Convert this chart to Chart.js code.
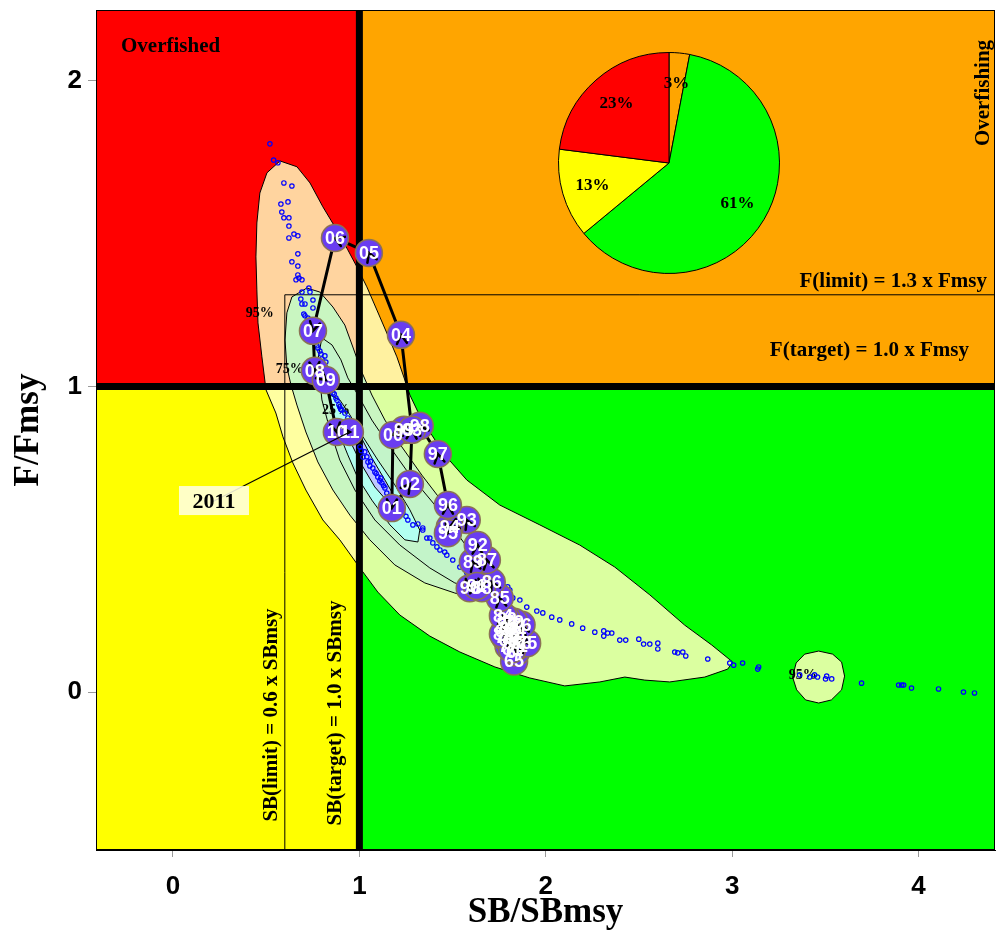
<!DOCTYPE html>
<html>
<head>
<meta charset="utf-8">
<script src="https://cdn.jsdelivr.net/npm/chart.js@4.4.1/dist/chart.umd.min.js"></script>
<style>
html, body { margin: 0; padding: 0; background: #fff; }
#wrap { position: relative; width: 996px; height: 934px; }
#pie { position: absolute; left: 558px; top: 52px; }
</style>
</head>
<body>
<div id="wrap">
	<canvas id="kobe" width="996" height="934"></canvas>
	<canvas id="pie" width="222" height="222"></canvas>
</div>
<script>
const SERIF = "'Liberation Serif', 'Times New Roman', serif";
const SANS = "'Liberation Sans', Arial, sans-serif";

// axes
const xTicks = [0, 1, 2, 3, 4];
const yTicks = [0, 1, 2];
const sbLimit = 0.6, sbTarget = 1.0, fLimit = 1.3, fTarget = 1.0;

// stock trajectory (SB/SBmsy, F/Fmsy)
const years = [1965,1966,1967,1968,1969,1970,1971,1972,1973,1974,1975,1976,1977,1978,1979,1980,1981,1982,1983,1984,
	1985,1986,1987,1988,1989,1990,1991,1992,1993,1994,1995,1996,1997,1998,1999,2000,2001,2002,2003,2004,2005,2006,2007,2008,2009,2010,2011];
const trajSB = [1.83,1.87,1.84,1.80,1.78,1.81,1.85,1.82,1.79,1.84,1.90,1.87,1.80,1.78,1.83,1.80,1.82,1.79,1.77,1.77,
	1.753,1.710,1.684,1.657,1.609,1.592,1.630,1.635,1.576,1.485,1.475,1.475,1.421,1.324,1.239,1.180,1.174,1.271,1.282,1.223,1.051,0.869,0.751,0.761,0.820,0.879,0.949];
const trajF = [0.10,0.16,0.13,0.17,0.20,0.18,0.15,0.19,0.22,0.20,0.16,0.22,0.15,0.18,0.23,0.21,0.14,0.24,0.19,0.25,
	0.308,0.360,0.432,0.340,0.426,0.340,0.347,0.481,0.563,0.540,0.520,0.612,0.779,0.871,0.858,0.841,0.602,0.681,0.858,1.169,1.437,1.486,1.182,1.051,1.021,0.851,0.851];

// last-year uncertainty (bootstrap points)
const bootPts = [[0.52,1.794],[0.54,1.741],[0.563,1.732],[0.595,1.666],[0.638,1.656],[0.579,1.597],[0.617,1.604],[0.584,1.571],
	[0.595,1.552],[0.622,1.552],[0.622,1.525],[0.649,1.499],[0.67,1.493],[0.622,1.486],[0.67,1.434],[0.638,1.408],[0.67,1.394],
	[0.67,1.365],[0.676,1.355],[0.66,1.349],[0.692,1.349],[0.729,1.322],[0.692,1.309],[0.735,1.309],[0.686,1.286],[0.692,1.27],
	[0.708,1.27],[0.751,1.283],[0.751,1.257],[0.702,1.237],[0.708,1.231],[0.724,1.224],[0.735,1.208],[0.772,1.133],[0.777,1.126],
	[0.788,1.116],[0.794,1.106],[0.815,1.1],[0.799,1.09],[0.82,1.08],[0.831,1.054],[0.842,1.028],[0.847,1.005],[0.858,0.979],
	[0.865,0.975],[0.874,0.962],[0.88,0.955],[0.89,0.94],[0.895,0.933],[0.9,0.925],[0.906,0.923],[0.922,0.913],[0.938,0.897],
	[0.96,0.874],[0.976,0.858],[0.987,0.838],[1.003,0.802],[1.01,0.79],[1.019,0.769],[1.029,0.786],[1.04,0.77],[1.046,0.753],
	[1.056,0.74],[1.06,0.755],[1.072,0.733],[1.083,0.72],[1.09,0.715],[1.099,0.704],[1.11,0.691],[1.115,0.7],[1.121,0.684],
	[1.13,0.675],[1.137,0.668],[1.147,0.651],[1.16,0.64],[1.175,0.625],[1.19,0.612],[1.2,0.6],[1.215,0.59],[1.233,0.586],
	[1.25,0.575],[1.26,0.563],[1.287,0.547],[1.314,0.55],[1.34,0.537],[1.34,0.53],[1.362,0.504],[1.378,0.504],[1.394,0.488],
	[1.416,0.475],[1.432,0.465],[1.458,0.458],[1.469,0.448],[1.501,0.432],[1.539,0.409],[1.576,0.39],[1.796,0.344],[1.807,0.334],
	[1.823,0.308],[1.861,0.301],[1.898,0.278],[1.952,0.265],[1.984,0.259],[2.032,0.245],[2.075,0.236],[2.139,0.223],[2.198,0.209],
	[2.263,0.196],[2.311,0.2],[2.311,0.183],[2.332,0.193],[2.354,0.193],[2.397,0.17],[2.429,0.17],[2.499,0.173],[2.525,0.157],
	[2.558,0.157],[2.601,0.16],[2.601,0.141],[2.692,0.131],[2.708,0.128],[2.735,0.131],[2.751,0.118],[2.869,0.108],[2.987,0.095],
	[3.008,0.088],[3.056,0.095],[3.142,0.082],[3.137,0.075],[3.362,0.056],[3.416,0.049],[3.442,0.056],[3.458,0.049],[3.507,0.052],
	[3.534,0.043],[3.501,0.043],[3.694,0.029],[3.893,0.023],[3.909,0.023],[3.92,0.023],[3.962,0.013],[4.107,0.01],[4.241,0.0],[4.3,-0.003]];

// density contours
const contour95 = [[0.574,1.738],[0.665,1.719],[0.735,1.666],[0.804,1.588],[0.879,1.512],[0.938,1.447],[0.987,1.391],[1.04,1.326],
	[1.094,1.25],[1.147,1.175],[1.201,1.097],[1.244,1.021],[1.271,0.972],[1.314,0.917],[1.378,0.851],[1.458,0.776],[1.576,0.694],
	[1.753,0.612],[1.968,0.547],[2.182,0.481],[2.37,0.409],[2.558,0.318],[2.745,0.219],[2.89,0.154],[3.003,0.098],[2.976,0.075],
	[2.853,0.049],[2.665,0.033],[2.531,0.039],[2.424,0.049],[2.29,0.033],[2.102,0.02],[1.914,0.046],[1.727,0.082],[1.539,0.131],
	[1.378,0.183],[1.217,0.252],[1.099,0.327],[1.003,0.406],[0.895,0.498],[0.804,0.563],[0.713,0.661],[0.643,0.75],[0.59,0.835],
	[0.552,0.913],[0.499,0.989],[0.477,1.097],[0.456,1.208],[0.45,1.316],[0.445,1.424],[0.45,1.535],[0.466,1.633],[0.504,1.699]];
const island95 = [[3.464,0.134],[3.539,0.124],[3.587,0.098],[3.603,0.052],[3.587,0.007],[3.532,-0.026],[3.464,-0.036],
	[3.394,-0.026],[3.346,0.007],[3.324,0.049],[3.343,0.095],[3.389,0.124]];
const contour75 = [[0.718,1.322],[0.788,1.309],[0.858,1.26],[0.922,1.201],[0.965,1.129],[1.013,1.047],[1.067,0.972],[1.137,0.89],
	[1.228,0.802],[1.335,0.71],[1.458,0.612],[1.592,0.514],[1.727,0.416],[1.796,0.334],[1.753,0.295],[1.646,0.301],[1.512,0.324],
	[1.351,0.357],[1.19,0.416],[1.056,0.498],[0.949,0.579],[0.858,0.661],[0.777,0.753],[0.713,0.851],[0.665,0.939],[0.633,1.005],
	[0.611,1.064],[0.601,1.152],[0.611,1.241],[0.638,1.293]];
const contour50 = [[0.799,1.159],[0.853,1.136],[0.901,1.087],[0.938,1.028],[0.992,0.972],[1.067,0.89],[1.164,0.802],[1.271,0.71],
	[1.405,0.612],[1.539,0.507],[1.646,0.416],[1.7,0.35],[1.635,0.334],[1.512,0.357],[1.378,0.406],[1.217,0.481],[1.083,0.563],
	[0.976,0.661],[0.895,0.759],[0.842,0.858],[0.799,0.956],[0.777,1.087]];
const contour25 = [[0.842,0.972],[0.895,0.956],[0.949,0.907],[1.013,0.841],[1.099,0.759],[1.19,0.678],[1.271,0.596],[1.324,0.53],
	[1.314,0.491],[1.244,0.498],[1.164,0.547],[1.067,0.628],[0.992,0.7],[0.938,0.776],[0.895,0.841],[0.858,0.907]];
const contourCore = [[0.949,0.89],[1.003,0.841],[1.067,0.766],[1.137,0.694],[1.19,0.638],[1.153,0.622],[1.083,0.671],
	[1.013,0.743],[0.96,0.809],[0.928,0.864]];
const contourTags = [['95%',0.466,1.24],['75%',0.627,1.057],['25%',0.874,0.923],['95%',3.378,0.056]];

// share of last-year outcomes by quadrant
const pieLabels = ['Overfishing', 'Green', 'Yellow', 'Red'];
const pieValues = [3, 61, 13, 23];
const pieColors = ['#FFA500', '#00FF00', '#FFFF00', '#FF0000'];

const lastLabel = { text: '2011', x: 0.22, y: 0.625 };

const kobeBg = {
	id: 'kobeBg',
	beforeDatasetsDraw(chart) {
		const { ctx, chartArea: a, scales: { x, y } } = chart;
		const X = v => x.getPixelForValue(v), Y = v => y.getPixelForValue(v);
		const xr = X(sbTarget), yr = Y(fTarget);
		const poly = pts => {
			ctx.beginPath();
			pts.forEach(([u, v], i) => i ? ctx.lineTo(X(u), Y(v)) : ctx.moveTo(X(u), Y(v)));
			ctx.closePath();
		};
		const quads = [
			[a.left, a.top, xr, yr, '#FF0000', '#FFD49F'],
			[xr, a.top, a.right, yr, '#FFA500', '#FFF1A0'],
			[a.left, yr, xr, a.bottom, '#FFFF00', '#FFFFA0'],
			[xr, yr, a.right, a.bottom, '#00FF00', '#DBFFA0']
		];
		ctx.save();
		ctx.beginPath(); ctx.rect(a.left, a.top, a.width, a.height); ctx.clip();
		quads.forEach(q => {
			ctx.fillStyle = q[4];
			ctx.fillRect(q[0], q[1], q[2] - q[0], q[3] - q[1]);
			ctx.save();
			ctx.beginPath(); ctx.rect(q[0], q[1], q[2] - q[0], q[3] - q[1]); ctx.clip();
			ctx.fillStyle = q[5];
			[contour95, island95].forEach(c => { poly(c); ctx.fill(); });
			ctx.restore();
		});
		[[contour75, '#C9F6C1'], [contour50, '#C3F4C9'], [contour25, '#B2FFF0'], [contourCore, '#BEC8FF']].forEach(([c, col]) => {
			poly(c); ctx.fillStyle = col; ctx.fill();
		});
		ctx.strokeStyle = '#000'; ctx.lineWidth = 1;
		[contour95, island95, contour75, contour50, contour25, contourCore].forEach(c => { poly(c); ctx.stroke(); });

		ctx.fillStyle = '#000';
		ctx.font = `bold 14px ${SERIF}`;
		ctx.textAlign = 'center'; ctx.textBaseline = 'middle';
		contourTags.forEach(([t, u, v]) => ctx.fillText(t, X(u), Y(v)));

		// limit lines
		ctx.lineWidth = 1;
		ctx.beginPath();
		ctx.moveTo(X(sbLimit), a.bottom); ctx.lineTo(X(sbLimit), Y(fLimit)); ctx.lineTo(a.right, Y(fLimit));
		ctx.stroke();
		// target lines
		ctx.lineWidth = 7;
		ctx.beginPath();
		ctx.moveTo(xr, a.top); ctx.lineTo(xr, a.bottom);
		ctx.moveTo(a.left, yr); ctx.lineTo(a.right, yr);
		ctx.stroke();

		ctx.font = `bold 21px ${SERIF}`;
		ctx.textAlign = 'left';
		ctx.fillText('Overfished', a.left + 25, a.top + 37);
		ctx.textAlign = 'right'; ctx.textBaseline = 'alphabetic';
		ctx.fillText('F(limit) = 1.3 x Fmsy', a.right - 8, Y(fLimit) - 8);
		ctx.fillText('F(target) = 1.0 x Fmsy', a.right - 26, yr - 30);
		ctx.textAlign = 'center'; ctx.textBaseline = 'middle';
		const vtext = (t, px, py) => {
			ctx.save(); ctx.translate(px, py); ctx.rotate(-Math.PI / 2); ctx.fillText(t, 0, 0); ctx.restore();
		};
		vtext('Overfishing', a.right - 11, a.top + 83);
		vtext('SB(limit) = 0.6 x SBmsy', X(sbLimit) - 13, a.bottom - 135);
		vtext('SB(target) = 1.0 x SBmsy', xr - 24, a.bottom - 137);
		ctx.restore();
	},
	afterDatasetsDraw(chart) {
		const { ctx, chartArea: a, scales: { x, y } } = chart;
		const X = v => x.getPixelForValue(v), Y = v => y.getPixelForValue(v);
		ctx.save();
		// arrow heads
		ctx.strokeStyle = '#000'; ctx.lineWidth = 2.5; ctx.lineCap = 'round';
		for (let i = 1; i < years.length; i++) {
			const x0 = X(trajSB[i - 1]), y0 = Y(trajF[i - 1]), x1 = X(trajSB[i]), y1 = Y(trajF[i]);
			const ang = Math.atan2(y1 - y0, x1 - x0);
			ctx.beginPath();
			ctx.moveTo(x1 - 10 * Math.cos(ang - Math.PI / 6), y1 - 10 * Math.sin(ang - Math.PI / 6));
			ctx.lineTo(x1, y1);
			ctx.lineTo(x1 - 10 * Math.cos(ang + Math.PI / 6), y1 - 10 * Math.sin(ang + Math.PI / 6));
			ctx.stroke();
		}
		// year labels
		ctx.fillStyle = '#fff';
		ctx.font = `bold 18px ${SANS}`;
		ctx.textAlign = 'center'; ctx.textBaseline = 'middle';
		years.forEach((yr, i) => ctx.fillText(String(yr).slice(2), X(trajSB[i]), Y(trajF[i]) + 1));

		// last year call-out
		const n = years.length - 1;
		const bx = X(lastLabel.x), by = Y(lastLabel.y);
		ctx.strokeStyle = '#000'; ctx.lineWidth = 1.2;
		ctx.beginPath(); ctx.moveTo(bx, by); ctx.lineTo(X(trajSB[n]), Y(trajF[n])); ctx.stroke();
		ctx.fillStyle = 'rgba(255,255,225,0.88)';
		ctx.fillRect(bx - 35, by - 15, 70, 29);
		ctx.fillStyle = '#000';
		ctx.font = `bold 22px ${SERIF}`;
		ctx.fillText(lastLabel.text, bx, by + 1);
		ctx.restore();
	},
	afterDraw(chart) {
		const { ctx, chartArea: a } = chart;
		ctx.save();
		ctx.strokeStyle = '#000'; ctx.lineWidth = 1;
		ctx.strokeRect(a.left + 0.5, a.top + 0.5, a.width - 1, a.height - 1);
		ctx.restore();
	}
};

new Chart(document.getElementById('kobe'), {
	type: 'scatter',
	data: {
		datasets: [
			{
				data: bootPts.map(([u, v]) => ({ x: u, y: v })),
				pointRadius: 2.2, pointBorderWidth: 1.2,
				pointBorderColor: '#0000FF', pointBackgroundColor: 'rgba(255,255,255,0)',
				showLine: false, order: 3
			},
			{
				data: years.map((yr, i) => ({ x: trajSB[i], y: trajF[i] })),
				showLine: true, borderColor: '#000', borderWidth: 3, pointRadius: 0, order: 2
			},
			{
				data: years.map((yr, i) => ({ x: trajSB[i], y: trajF[i] })),
				showLine: false, pointRadius: 13.5, pointBorderWidth: 1.5,
				pointBackgroundColor: '#6A3DF0', pointBorderColor: '#8B7355', order: 1
			}
		]
	},
	options: {
		responsive: false,
		devicePixelRatio: 1,
		animation: false,
		events: [],
		layout: { autoPadding: false, padding: { top: 10, right: 1, left: 0, bottom: 0 } },
		plugins: { legend: { display: false }, tooltip: { enabled: false } },
		scales: {
			x: {
				type: 'linear', min: -0.413, max: 4.41,
				afterBuildTicks: s => { s.ticks = xTicks.map(v => ({ value: v })); },
				afterFit: s => { s.height = 84; s.paddingLeft = 0; s.paddingRight = 0; },
				grid: { drawOnChartArea: false, tickLength: 7, color: '#999' },
				border: { color: '#000' },
				ticks: { color: '#000', padding: 14, font: { family: SANS, size: 26, weight: 'bold' } },
				title: { display: true, text: 'SB/SBmsy', color: '#000', padding: { top: 0, bottom: 0 },
					font: { family: SERIF, size: 35, weight: 'bold' } }
			},
			y: {
				type: 'linear', min: -0.517, max: 2.232,
				afterBuildTicks: s => { s.ticks = yTicks.map(v => ({ value: v })); },
				afterFit: s => { s.width = 96; s.paddingTop = 0; s.paddingBottom = 0; },
				grid: { drawOnChartArea: false, tickLength: 8, color: '#999' },
				border: { color: '#000' },
				ticks: { color: '#000', padding: 6, font: { family: SANS, size: 26, weight: 'bold' } },
				title: { display: true, text: 'F/Fmsy', color: '#000', padding: { top: 8, bottom: 0 },
					font: { family: SERIF, size: 35, weight: 'bold' } }
			}
		}
	},
	plugins: [kobeBg]
});

const pieText = {
	id: 'pieText',
	afterDatasetsDraw(chart) {
		const { ctx } = chart;
		ctx.save();
		ctx.fillStyle = '#000';
		ctx.font = `bold 17px ${SERIF}`;
		ctx.textAlign = 'center'; ctx.textBaseline = 'middle';
		chart.getDatasetMeta(0).data.forEach((arc, i) => {
			const p = arc.getProps(['x', 'y', 'startAngle', 'endAngle', 'outerRadius'], true);
			const mid = (p.startAngle + p.endAngle) / 2, r = p.outerRadius * 0.72;
			ctx.fillText(pieValues[i] + '%', p.x + r * Math.cos(mid), p.y + r * Math.sin(mid));
		});
		ctx.restore();
	}
};

new Chart(document.getElementById('pie'), {
	type: 'pie',
	data: {
		labels: pieLabels,
		datasets: [{ data: pieValues, backgroundColor: pieColors, borderColor: '#000', borderWidth: 1 }]
	},
	options: {
		responsive: false,
		devicePixelRatio: 1,
		animation: false,
		events: [],
		layout: { padding: 0 },
		plugins: { legend: { display: false }, tooltip: { enabled: false } }
	},
	plugins: [pieText]
});
</script>
</body>
</html>
